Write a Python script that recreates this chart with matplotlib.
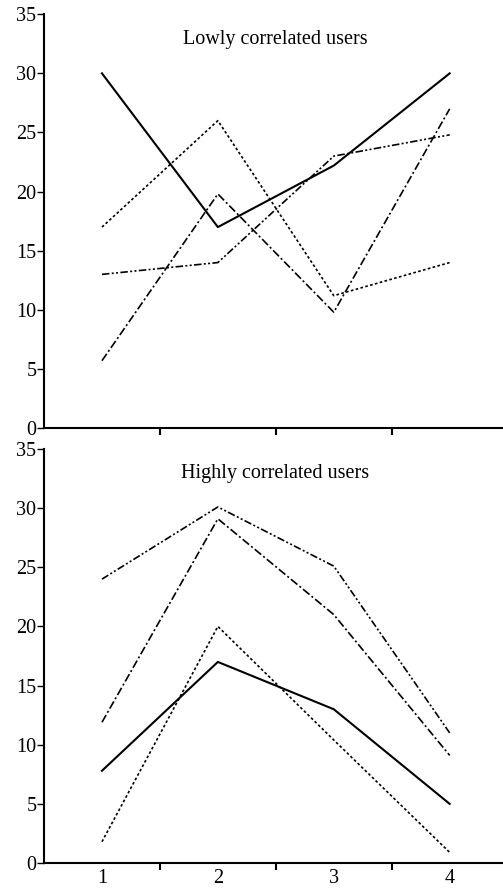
"""Two stacked panels: per-user values for lowly vs highly correlated users."""
import matplotlib
matplotlib.use("Agg")
import matplotlib.pyplot as plt

plt.rcParams["font.family"] = ["Liberation Serif", "DejaVu Serif"]

x = [1, 2, 3, 4]
x_labels = ["1", "2", "3", "4"]
y_ticks = [0, 5, 10, 15, 20, 25, 30, 35]

# lowly correlated users
low_solid = [30, 17, 22.2, 30]
low_dotted = [17, 26, 11.2, 14]
low_dashdot = [5.7, 19.8, 9.8, 27]
low_dashdotdot = [13, 14, 23, 24.8]

# highly correlated users
high_solid = [7.8, 17, 13, 5]
high_dotted = [1.8, 20, 10.4, 0.9]
high_dashdot = [11.9, 29.1, 21, 9.1]
high_dashdotdot = [24, 30.1, 25.1, 11]

STYLES = [
    dict(ls="-", lw=1.5),
    dict(ls=(0, (1.6, 1.4)), lw=1.2),
    dict(ls=(0, (5, 1.6, 1.2, 1.6)), lw=1.2),
    dict(ls=(0, (4.5, 1.4, 1.2, 1.4, 1.2, 1.4)), lw=1.2),
]
FS = 14.5


def panel(ax, series, title, show_labels):
    for ys, st in zip(series, STYLES):
        ax.plot(x, ys, color="black", **st)
    ax.set_xlim(0.5, 4.46)
    ax.set_ylim(0, 35)
    ax.set_yticks(y_ticks)
    ax.set_xticks([1.5, 2.5, 3.5])
    ax.set_xticklabels([])
    ax.set_xticks(x, minor=True)
    ax.set_xticklabels(x_labels if show_labels else [], minor=True)
    ax.tick_params(axis="x", which="minor", length=0, labelsize=FS, pad=4)
    ax.tick_params(axis="x", which="major", length=5, width=1.5, direction="out")
    ax.tick_params(axis="y", length=5, width=1, direction="out", labelsize=FS, pad=0.5)
    for s in ("top", "right"):
        ax.spines[s].set_visible(False)
    for s in ("left", "bottom"):
        ax.spines[s].set_linewidth(1.5)
    ax.text(0.503, 32.9, title, transform=ax.get_yaxis_transform(),
            ha="center", va="center", fontsize=FS)


fig = plt.figure(figsize=(5.03, 8.9), dpi=100)
ax1 = fig.add_axes([0.0875, 0.519, 0.9125, 0.465])
ax2 = fig.add_axes([0.0875, 0.0303, 0.9125, 0.4652])
panel(ax1, [low_solid, low_dotted, low_dashdot, low_dashdotdot],
      "Lowly correlated users", False)
panel(ax2, [high_solid, high_dotted, high_dashdot, high_dashdotdot],
      "Highly correlated users", True)

fig.savefig("out.png", dpi=100)
